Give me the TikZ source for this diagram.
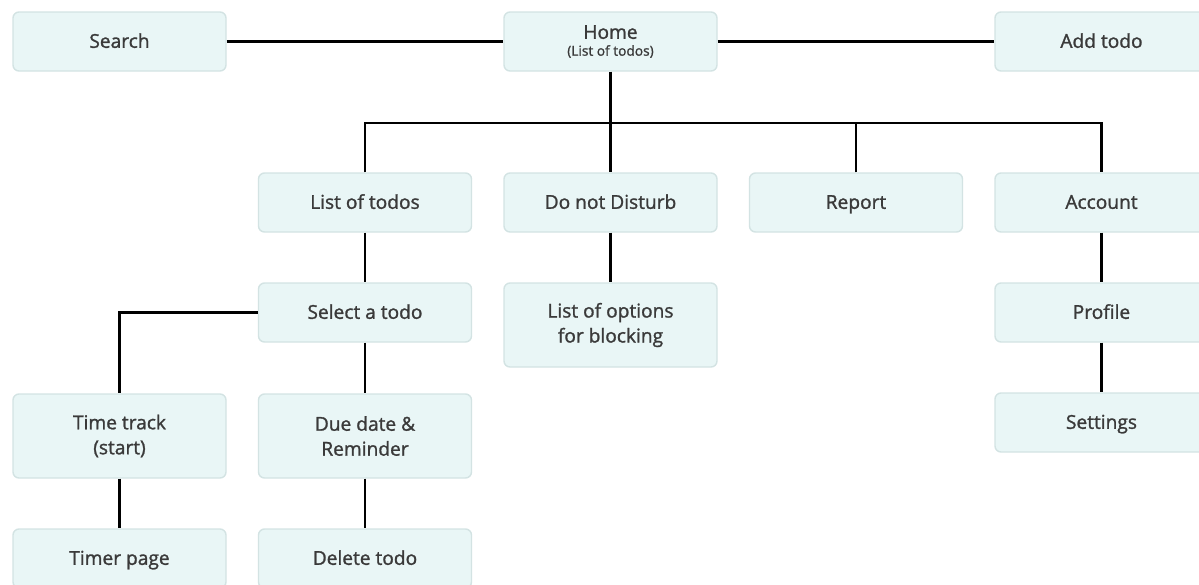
\documentclass[tikz,border=0pt]{standalone}
\usepackage{fontspec}
\setmainfont{Open Sans}[FakeBold=1.3]
\usepackage{tikz}
\usetikzlibrary{positioning}

\definecolor{boxfill}{HTML}{E9F6F6}
\definecolor{boxline}{HTML}{D3E3E3}
\definecolor{boxtext}{HTML}{3A3A3A}

\tikzset{
	basebox/.style={draw=boxline,fill=boxfill,line width=0.8pt,rounded corners=0.12cm,
		minimum width=4.26cm,inner sep=0pt,align=center,
		text=boxtext,font=\fontsize{10.9}{14.2}\selectfont},
	screen/.style={basebox,minimum height=1.18cm,text height=0.72em,text depth=0pt},
	tallscreen/.style={basebox,minimum height=1.68cm},
	link/.style={draw=black,line width=1.2pt}
}

\begin{document}
\begin{tikzpicture}
	\def\cw{4.91} \def\x{2.39}
	\clip (0,0) rectangle (23.98,-11.68);
	
	%TOP ROW
	\node[screen] (search) at (\x+0*\cw,-0.83) {Search};
	\node[tallscreen,minimum height=1.18cm] (home) at (\x+2*\cw,-0.83) {Home\\[-4.6pt]{\fontsize{7.8}{9}\selectfont (List of todos)}};
	\node[screen] (addtodo) at (\x+4*\cw,-0.83) {Add todo};
	
	%MENU ROW
	\node[screen] (todos) at (\x+1*\cw,-4.05) {List of todos};
	\node[screen] (dnd) at (\x+2*\cw,-4.05) {Do not Disturb};
	\node[screen] (report) at (\x+3*\cw,-4.05) {Report};
	\node[screen] (account) at (\x+4*\cw,-4.05) {Account};
	\coordinate (bus) at (\x+2*\cw,-2.46);
	
	%SUB PAGES
	\node[screen] (select) at (\x+1*\cw,-6.25) {Select a todo};
	\node[tallscreen] (options) at (\x+2*\cw,-6.50) {List of options\\for blocking};
	\node[screen] (profile) at (\x+4*\cw,-6.25) {Profile};
	\node[tallscreen] (timetrack) at (\x+0*\cw,-8.72) {Time track\\(start)};
	\node[tallscreen] (duedate) at (\x+1*\cw,-8.72) {Due date \&\\Reminder};
	\node[screen] (settings) at (\x+4*\cw,-8.45) {Settings};
	\node[screen] (timer) at (\x+0*\cw,-11.17) {Timer page};
	\node[screen] (delete) at (\x+1*\cw,-11.17) {Delete todo};
	
	%LINKS
	\draw[link] (search) -- (home);
	\draw[link] (home) -- (addtodo);
	\draw[link] (home) -- (dnd);
	\draw[link] (todos.north) |- (bus) -| (account.north);
	\draw[link] (report.north) -- (report.north |- bus);
	\draw[link] (todos) -- (select);
	\draw[link] (dnd) -- (options);
	\draw[link] (account) -- (profile);
	\draw[link] (profile) -- (settings);
	\draw[link] (select.west) -| (timetrack.north);
	\draw[link] (select) -- (duedate);
	\draw[link] (timetrack) -- (timer);
	\draw[link] (duedate) -- (delete);
\end{tikzpicture}
\end{document}
